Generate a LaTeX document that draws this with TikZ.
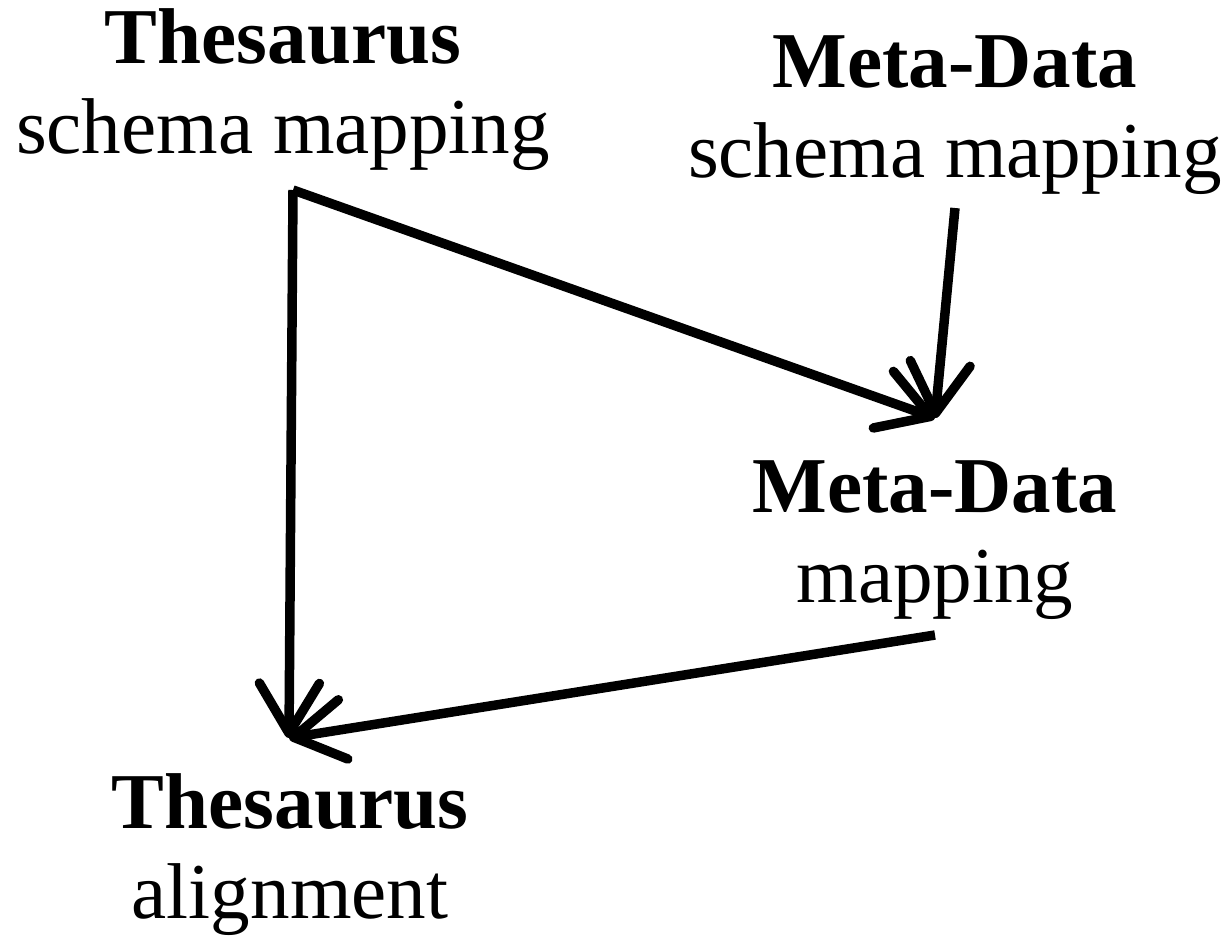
\documentclass[tikz,border=0pt]{standalone}
\usepackage{fontspec}
\setmainfont{Liberation Serif}
\usetikzlibrary{positioning,arrows.meta}

\begin{document}
\begin{tikzpicture}[x=0.01cm,y=-0.01cm,
	every node/.style={align=center,inner sep=0pt,font=\fontsize{22.5}{25.6}\selectfont},
	link/.style={line width=2.7pt,line join=miter,
		-{Straight Barb[length=0.5cm,width=0.6cm,round]}}]
	\useasboundingbox (0,0) rectangle (1227,936);
	% the four mapping steps
	\node (tsm) at (283,90) {\textbf{Thesaurus}\\schema mapping};
	\node (msm) at (955,115) {\textbf{Meta-Data}\\schema mapping};
	\node (mdm) at (935,540) {\textbf{Meta-Data}\\mapping};
	\node (tal) at (290,855) {\textbf{Thesaurus}\\alignment};
	% ends of the arrows
	\coordinate (tsmout) at (293,190);
	\coordinate (msmout) at (955,208);
	\coordinate (mdmin) at (935,418);
	\coordinate (mdmout) at (935,635);
	\coordinate (talin) at (289,738);
	% arrows
	\draw[link] (tsmout) -- (talin);
	\draw[link] (tsmout) -- (mdmin);
	\draw[link] (msmout) -- (mdmin);
	\draw[link] (mdmout) -- (talin);
\end{tikzpicture}
\end{document}
